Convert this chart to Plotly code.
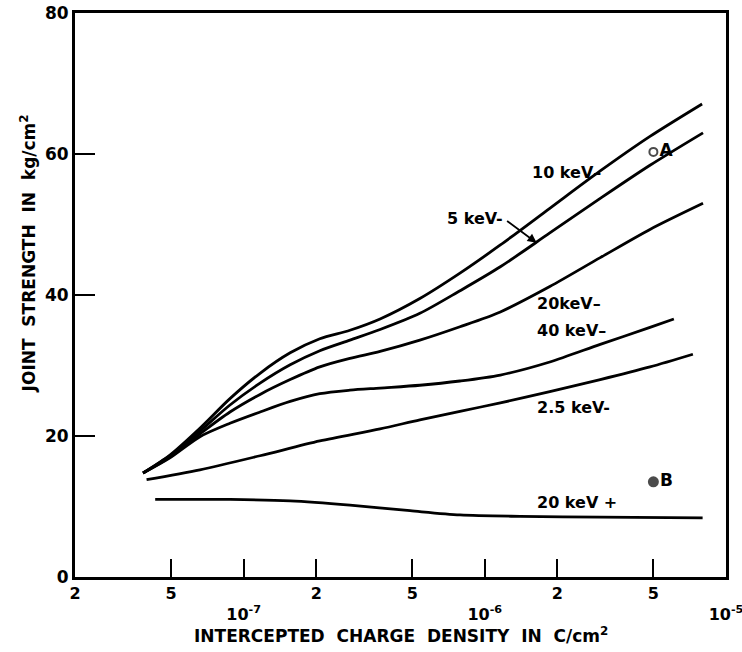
import math
import plotly.graph_objects as go

# ---------------- data ----------------
x_grid = [3.83e-8, 4.95e-8, 6.59e-8, 8.78e-8, 1.17e-7, 1.56e-7, 2.07e-7, 2.76e-7,
          3.68e-7, 5.38e-7, 7.89e-7, 1.16e-6, 1.86e-6, 3.01e-6, 4.84e-6]

x_10kev = x_grid + [7.96e-6]
y_10kev = [14.75, 17.3, 21.1, 25.3, 28.9, 31.8, 33.8, 35.0, 36.6, 39.5, 43.1, 47.1, 52.3, 57.6, 62.5, 67.1]

x_5kev = x_grid + [8.03e-6]
y_5kev = [14.75, 17.2, 20.7, 24.4, 27.5, 30.1, 32.1, 33.6, 35.1, 37.4, 40.6, 44.0, 48.8, 53.7, 58.4, 63.0]

x_20kev = x_grid + [8.03e-6]
y_20kev = [14.75, 17.0, 20.3, 23.4, 25.9, 28.0, 29.8, 31.0, 32.0, 33.6, 35.5, 37.6, 41.2, 45.3, 49.3, 53.0]

x_40kev = x_grid + [6.08e-6]
y_40kev = [14.75, 16.9, 19.9, 21.8, 23.4, 24.9, 26.0, 26.5, 26.8, 27.2, 27.8, 28.65, 30.5, 33.0, 35.4, 36.6]

x_2p5kev = [3.96e-8, 6.59e-8, 1.17e-7, 2.07e-7, 3.68e-7, 5.38e-7, 7.89e-7, 1.16e-6, 1.86e-6, 3.01e-6, 4.84e-6, 7.29e-6]
y_2p5kev = [13.8, 15.2, 17.2, 19.3, 21.0, 22.3, 23.5, 24.7, 26.3, 28.0, 29.8, 31.6]

x_20kev_pos = [4.3e-8, 8.8e-8, 1.56e-7, 2.76e-7, 4.9e-7, 7.89e-7, 1.4e-6, 3.0e-6, 8.0e-6]
y_20kev_pos = [11.0, 11.0, 10.8, 10.2, 9.4, 8.8, 8.6, 8.5, 8.4]

point_names = ["A", "B"]
point_x = [5.0e-6, 5.0e-6]
point_y = [60.3, 13.5]

x_tickvals = [2e-8, 5e-8, 1e-7, 2e-7, 5e-7, 1e-6, 2e-6, 5e-6, 1e-5]
x_ticktext = ["2", "5", "<br>10<sup>-7</sup>", "2", "5", "<br>10<sup>-6</sup>", "2", "5", "<br>10<sup>-5</sup>"]
y_tickvals = [0, 20, 40, 60, 80]

curve_labels = ["10 keV–", "5 keV-", "20keV–", "40 keV–", "2.5 keV-", "20 keV +"]
label_x = [3.09e-6, 1.21e-6, 1.61e-6, 1.61e-6, 1.61e-6, 1.61e-6]
label_y = [57.4, 50.8, 38.8, 35.0, 24.1, 10.6]
label_anchor = ["right", "right", "left", "left", "left", "left"]

arrow_x = 1.64e-6
arrow_y = 47.4

# ---------------- figure ----------------
FONT = "DejaVu Sans"
fig = go.Figure()
line_style = dict(color="black", width=2.8, shape="spline", smoothing=0.8)
for xs, ys in [(x_10kev, y_10kev), (x_5kev, y_5kev), (x_20kev, y_20kev),
               (x_40kev, y_40kev), (x_2p5kev, y_2p5kev), (x_20kev_pos, y_20kev_pos)]:
    fig.add_trace(go.Scatter(x=xs, y=ys, mode="lines", line=line_style,
                             hoverinfo="skip", showlegend=False))

fig.add_trace(go.Scatter(
    x=point_x, y=point_y, mode="markers+text",
    text=point_names, textposition="middle right",
    textfont=dict(family=FONT, size=17, color="black", weight="bold"),
    marker=dict(size=[8, 9], color=["white", "black"], symbol="circle",
                line=dict(color="black", width=2)),
    showlegend=False, hoverinfo="skip"))

annotations = []
for t, lx, ly, anc in zip(curve_labels, label_x, label_y, label_anchor):
    annotations.append(dict(x=math.log10(lx), y=ly, xref="x", yref="y", text=t,
                            showarrow=False, xanchor=anc, yanchor="middle",
                            font=dict(family=FONT, size=16, color="black", weight="bold")))
# leader for 5 keV label
annotations.append(dict(x=math.log10(arrow_x), y=arrow_y, xref="x", yref="y", text="",
                        showarrow=True, arrowhead=2, arrowsize=1, arrowwidth=1.8,
                        arrowcolor="black", ax=-31, ay=-23))
# axis titles
annotations.append(dict(x=0.5, y=-0.103, xref="paper", yref="paper",
                        text="INTERCEPTED  CHARGE  DENSITY  IN  C/cm<sup>2</sup>",
                        showarrow=False, xanchor="center", yanchor="middle",
                        font=dict(family=FONT, size=17, color="black", weight="bold")))
annotations.append(dict(x=-0.072, y=0.574, xref="paper", yref="paper",
                        text="JOINT  STRENGTH  IN  kg/cm<sup>2</sup>", textangle=-90,
                        showarrow=False, xanchor="center", yanchor="middle",
                        font=dict(family=FONT, size=17, color="black", weight="bold")))

fig.update_layout(
    width=742, height=652,
    margin=dict(l=75, r=16, t=13, b=75, autoexpand=False),
    paper_bgcolor="white", plot_bgcolor="white",
    showlegend=False,
    annotations=annotations,
    xaxis=dict(type="log", range=[math.log10(2e-8) - 1e-6, math.log10(1e-5) + 1e-6],
               tickvals=x_tickvals, ticktext=x_ticktext, automargin=False,
               ticklabeloverflow="allow",
               ticks="inside", ticklen=18, tickwidth=2, tickcolor="black",
               showline=True, linewidth=3, linecolor="black", mirror=True,
               showgrid=False, zeroline=False,
               tickfont=dict(family=FONT, size=16, color="black", weight="bold")),
    yaxis=dict(range=[0, 80], tickvals=y_tickvals, automargin=False,
               ticklabeloverflow="allow",
               ticks="inside", ticklen=20, tickwidth=2, tickcolor="black",
               showline=True, linewidth=3, linecolor="black", mirror=True,
               showgrid=False, zeroline=False,
               tickfont=dict(family=FONT, size=17, color="black", weight="bold")),
)

fig.write_html("out.html")
